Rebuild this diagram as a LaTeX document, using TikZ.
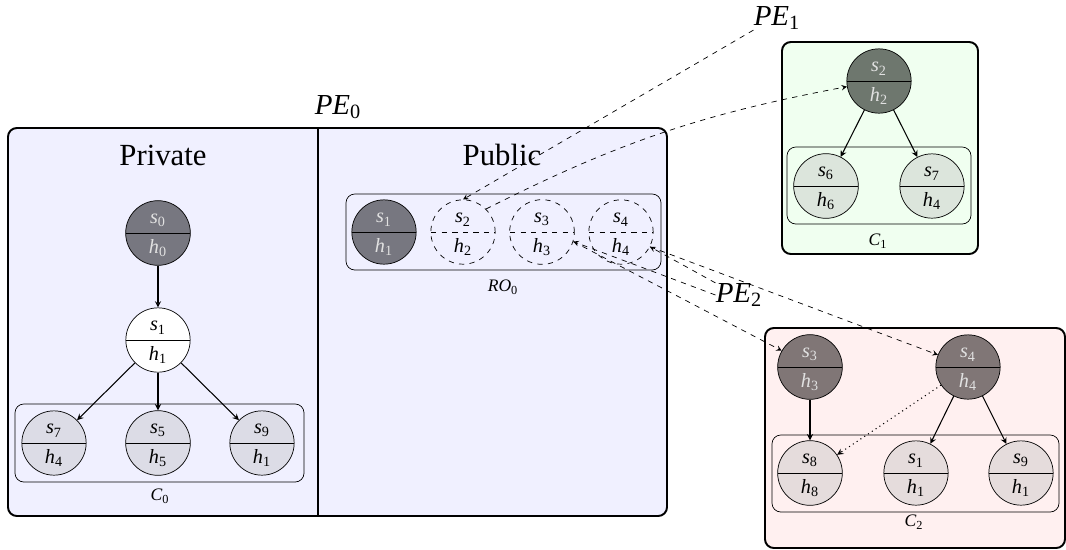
\documentclass[tikz,border=0pt]{standalone}
\usepackage{amsmath}
\usepackage{fontspec}
\setmainfont{Liberation Serif}
\usetikzlibrary{shapes.multipart,arrows}

\definecolor{pebg}{RGB}{240,240,255}
\definecolor{greenbg}{RGB}{240,255,240}
\definecolor{redbg}{RGB}{255,240,240}
\definecolor{darkblue}{RGB}{119,119,128}
\definecolor{darkgreen}{RGB}{110,119,110}
\definecolor{darkred}{RGB}{128,118,118}
\definecolor{lightblue}{RGB}{220,220,230}
\definecolor{lightgreen}{RGB}{220,229,220}
\definecolor{lightred}{RGB}{229,220,220}
\definecolor{lighttext}{RGB}{225,225,225}

\newcommand{\sv}[2]{$\textit{#1}_{\textrm{#2}}$}

\tikzstyle{splitvertex}=[circle split,draw,minimum size=1.28cm,inner sep=3.2pt,font=\fontsize{11.5}{13}\selectfont]
\tikzstyle{darkvertex}=[splitvertex,text=lighttext]
\tikzstyle{ghostvertex}=[splitvertex,dashed]
\tikzstyle{edge} = [draw,semithick,->,>=stealth]
\tikzstyle{linkedge} = [draw,dashed,->,>=stealth]
\tikzstyle{box} = [draw,rounded corners=5pt]
\tikzstyle{outerbox} = [box,line width=1.1pt]
\tikzstyle{title} = [font=\fontsize{17.5}{20}\selectfont]
\tikzstyle{pelabel} = [font=\fontsize{16.5}{19}\selectfont,inner sep=0pt]

\begin{document}
\begin{tikzpicture}[x=0.02cm,y=-0.02cm]

  \useasboundingbox (0,0) rectangle (1066,549);

  % containers
  \draw[outerbox,fill=pebg] (8,128) rectangle (667,516);
  \draw[line width=1.1pt] (318,128) -- (318,516);
  \draw[box] (15,404) rectangle (304,482);
  \draw[box] (346,194) rectangle (661,270);
  \draw[outerbox,fill=greenbg] (782,42) rectangle (978,254);
  \draw[box] (787,147) rectangle (971,224);
  \draw[outerbox,fill=redbg] (765,328) rectangle (1065,548);
  \draw[box] (772,435) rectangle (1059,512);

  % labels
  \node[pelabel] (pe0) at (338,107) {\sv{PE}{0}};
  \node[pelabel] (pe1) at (777,18) {\sv{PE}{1}};
  \node[pelabel] (pe2) at (739,295) {\sv{PE}{2}};
  \node[title] (private) at (163,155) {Private};
  \node[title] (public) at (502,155) {Public};
  \node (c0) at (160,496) {\sv{C}{0}};
  \node (ro0) at (503,287) {\sv{RO}{0}};
  \node (c1) at (878,241) {\sv{C}{1}};
  \node (c2) at (914,522) {\sv{C}{2}};

  % PE_0, private part
  \foreach \x/\y/\name/\s/\h in {158/233/p0/0/0}
     \node[darkvertex,fill=darkblue] (\name) at (\x,\y) {\sv{s}{\s}\nodepart{lower}\sv{h}{\h}};
  \foreach \x/\y/\name/\s/\h in {158/340/p1/1/1}
     \node[splitvertex,fill=white] (\name) at (\x,\y) {\sv{s}{\s}\nodepart{lower}\sv{h}{\h}};
  \foreach \x/\y/\name/\s/\h in {54/443/p7/7/4, 158/443/p5/5/5, 262/443/p9/9/1}
     \node[splitvertex,fill=lightblue] (\name) at (\x,\y) {\sv{s}{\s}\nodepart{lower}\sv{h}{\h}};

  % PE_0, public part
  \foreach \x/\y/\name/\s/\h in {384/232/r1/1/1}
     \node[darkvertex,fill=darkblue] (\name) at (\x,\y) {\sv{s}{\s}\nodepart{lower}\sv{h}{\h}};
  \foreach \x/\y/\name/\s/\h in {463/232/r2/2/2, 542/232/r3/3/3, 621/232/r4/4/4}
     \node[ghostvertex] (\name) at (\x,\y) {\sv{s}{\s}\nodepart{lower}\sv{h}{\h}};

  % PE_1
  \foreach \x/\y/\name/\s/\h in {879/81/a2/2/2}
     \node[darkvertex,fill=darkgreen] (\name) at (\x,\y) {\sv{s}{\s}\nodepart{lower}\sv{h}{\h}};
  \foreach \x/\y/\name/\s/\h in {826/186/a6/6/6, 932/186/a7/7/4}
     \node[splitvertex,fill=lightgreen] (\name) at (\x,\y) {\sv{s}{\s}\nodepart{lower}\sv{h}{\h}};

  % PE_2
  \foreach \x/\y/\name/\s/\h in {810/367/b3/3/3, 968/367/b4/4/4}
     \node[darkvertex,fill=darkred] (\name) at (\x,\y) {\sv{s}{\s}\nodepart{lower}\sv{h}{\h}};
  \foreach \x/\y/\name/\s/\h in {810/473/b8/8/8, 916/473/b1/1/1, 1021/473/b9/9/1}
     \node[splitvertex,fill=lightred] (\name) at (\x,\y) {\sv{s}{\s}\nodepart{lower}\sv{h}{\h}};

  \foreach \source/\dest in {p0/p1, p1/p7, p1/p5, p1/p9, a2/a6, a2/a7, b3/b8, b4/b1, b4/b9}
     \path[edge] (\source) -- (\dest);
  \path[edge,dotted] (b4) -- (b8);

  \path[linkedge] (pe1.south west) -- (r2.north);
  \path[linkedge] (r2.north east) to[bend left=8] (a2.190);
  \path[linkedge] (pe2.north west) -- (r4.-27);
  \path[linkedge] (pe2.west) -- (r3.-17);
  \path[linkedge] (r3.-17) -- (b3.150);
  \path[linkedge] (r4.-27) -- (b4.158);

\end{tikzpicture}
\end{document}
